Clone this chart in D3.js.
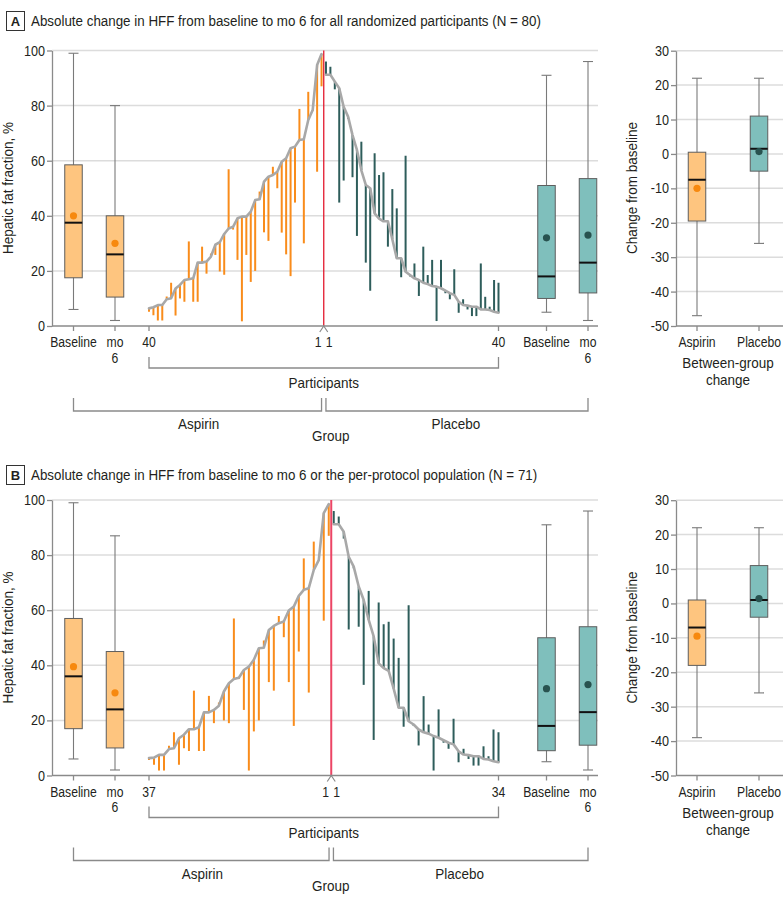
<!DOCTYPE html>
<html><head><meta charset="utf-8">
<script src="https://cdn.jsdelivr.net/npm/d3@7/dist/d3.min.js"></script>
<style>html,body{margin:0;padding:0;background:#fff;}svg{display:block;}</style>
</head><body>
<svg id="chart" width="783" height="902"></svg>
<script>
// ---------------- DATA ----------------
const boxCats = ["Baseline", "mo 6"];
const groups = ["Aspirin", "Placebo"];
const hffTicks = [0, 20, 40, 60, 80, 100];
const changeTicks = [30, 20, 10, 0, -10, -20, -30, -40, -50];

const titleA = "Absolute change in HFF from baseline to mo 6 for all randomized participants (N = 80)";
const titleB = "Absolute change in HFF from baseline to mo 6 or the per-protocol population (N = 71)";

// Panel A, aspirin, left to right (participant 40 ... 1)
const aspA_base = [6.4,6.8,7.6,7.6,9.7,10.1,13.6,14.9,16.7,17,17.3,23,23,23.4,25.2,29.5,30.4,33.4,35.4,36,39.1,39.7,39.7,41.5,45.7,46,52.4,54.2,54.8,56,59.6,60.9,64.5,65.1,67.5,67.8,74.8,78.4,94.7,98.7];
const aspA_m6   = [5.2,3.9,2,2,10.7,15.7,3.8,10,8.8,30.7,8.8,8.8,28.8,19,26.3,25.8,19.8,18.6,56.9,35,24,1.7,25.8,16,20,48.8,34,30.9,57.8,50,33.9,26,18.1,44.8,78.8,30,85,78,56,87];
// Panel A, placebo, left to right (participant 1 ... 40)
const plaA_base = [91.2,91.2,88.7,86.3,79.6,76,69.3,63.9,56.5,51.2,50,40.9,39,38,38,31.5,24.6,24.6,19.7,18.5,17.3,16.7,15.7,15.2,14.5,14.3,13.7,12.8,11.9,11.3,8.8,7.6,7.4,7,7,6,6,5.8,5.2,4.8];
const plaA_m6   = [96,94.1,85.9,44.8,52.8,75.2,54,32.7,66.9,23,12.8,62.7,54.8,55.8,28.8,49.7,42.7,17.7,61.8,18,22.7,10.9,28.8,18.5,24,1.8,24,11.9,9.7,20.6,4.8,9.7,6,3.6,3.6,22.7,10.6,7,16.7,15.7];

// Panel B, aspirin, left to right (participant 37 ... 1)
const aspB_base = [6.3,6.5,7.5,7.5,9.6,9.9,13.5,14.8,16.8,16.8,17.5,22.9,22.9,23.8,25.3,30.5,33.5,35,35.5,38.3,39.5,42,46.2,46.4,52.8,54.3,55.3,55.9,59.9,61.3,65.2,67.4,68,74.6,78.2,95.2,98.5];
const aspB_m6   = [5.6,3.9,1.8,1.8,10.8,15.7,3.9,9.9,8.9,30.8,8.9,8.9,28.9,19,26.5,20,19,57,35,23.8,1.8,16,20,49,33.9,30.8,57.9,50.2,33.9,18,45,78.8,30.1,84.9,78,56.2,87];
// Panel B, placebo, left to right (participant 1 ... 34)
const plaB_base = [91.2,91.2,88.5,79.4,75.8,68.6,63.7,56.5,50.5,40.7,39,38,31.5,24.6,24.6,19.7,18.5,16.7,15.7,15.2,14.3,13.7,12.8,11.9,11.3,8.8,7.6,7.4,7,7,6,5.8,5.2,4.8];
const plaB_m6   = [96,94,86,53,75.2,54,32.9,67,12.9,62.8,54.9,55.8,49.7,42.7,17.7,61.8,18,10.9,28.8,18.5,1.8,24,11.9,9.7,20.6,4.8,9.7,6,3.6,3.6,10.6,7,16.7,15.7];

// box statistics: [min, q1, median, q3, max, mean]
const boxA_aspBase = [6, 17.5, 37.5, 58.5, 99, 40];
const boxA_aspM6   = [2, 10.5, 26, 40, 80, 30];
const boxA_plaBase = [5, 10, 18, 51, 91, 32];
const boxA_plaM6   = [2, 12, 23, 53.5, 96, 33];
const chgA_asp     = [-47, -19.5, -7.5, 0.5, 22, -10];
const chgA_pla     = [-26, -5, 1.5, 11, 22, 0.7];
const boxB_aspBase = [6, 17, 36, 57, 99, 39.5];
const boxB_aspM6   = [2, 10, 24, 45, 87, 30];
const boxB_plaBase = [5, 9, 18, 50, 91, 31.5];
const boxB_plaM6   = [2, 11, 23, 54, 96, 33];
const chgB_asp     = [-39, -18, -7, 1, 22, -9.5];
const chgB_pla     = [-26, -4, 1, 11, 22, 1.4];

// ---------------- DRAWING ----------------
const svg = d3.select('#chart');
const FONT = "'Liberation Sans', Arial, sans-serif";
const INK = '#231f20';
const C = {
  grid: '#dcdcdc', axis: '#8a8a8a',
  orange: '#f98c1b', orangeFill: '#fec57f', orangeDot: '#f7890f',
  teal: '#2e5d5b', tealFill: '#7fbfbc', tealDot: '#28524f',
  grey: '#a8a8a8', boxStroke: '#5e5e5e'
};

function txt(parent, x, y, s, o = {}) {
  const size = o.size || 14, sx = o.sx || 0.87;
  return parent.append('text')
    .attr('transform', `translate(${x},${y})${o.rot ? ` rotate(${o.rot})` : ''} scale(${sx},1)`)
    .attr('text-anchor', o.anchor || 'middle')
    .attr('font-family', FONT).attr('font-size', size)
    .attr('font-weight', o.weight || 400)
    .attr('fill', o.fill || INK)
    .text(s);
}

function drawBox(g, x, yS, s, kind) {
  const [mn, q1, md, q3, mx, mean] = s;
  const w = 17.5, cap = 10;
  const fill = kind === 'asp' ? C.orangeFill : C.tealFill;
  const dot = kind === 'asp' ? C.orangeDot : C.tealDot;
  const b = g.append('g');
  b.append('line').attr('x1', x).attr('x2', x).attr('y1', yS(mx)).attr('y2', yS(mn))
    .attr('stroke', '#7a7a7a').attr('stroke-width', 1.1);
  [mx, mn].forEach(v => b.append('line').attr('x1', x - cap / 2).attr('x2', x + cap / 2)
    .attr('y1', yS(v)).attr('y2', yS(v)).attr('stroke', '#7a7a7a').attr('stroke-width', 1.1));
  b.append('rect').attr('x', x - w / 2).attr('y', yS(q3)).attr('width', w).attr('height', yS(q1) - yS(q3))
    .attr('fill', fill).attr('stroke', C.boxStroke).attr('stroke-width', 1);
  b.append('line').attr('x1', x - w / 2).attr('x2', x + w / 2).attr('y1', yS(md)).attr('y2', yS(md))
    .attr('stroke', '#111').attr('stroke-width', 2);
  b.append('circle').attr('cx', x).attr('cy', yS(mean)).attr('r', 3.6).attr('fill', dot);
}

let titleScale = null;

function drawPanel(p) {
  const dy = p.dy;
  const g = svg.append('g');
  const y0 = 326 + dy;
  const yH = d3.scaleLinear().domain([0, 100]).range([y0, 50.5 + dy]);
  const yC = d3.scaleLinear().domain([-50, 30]).range([y0, 50.7 + dy]);
  const nA = p.aspBase.length, nP = p.plaBase.length;
  const xP = d3.scaleLinear().domain([0, nA + nP - 1]).range([149, 498.5]);
  const xBL = d3.scalePoint().domain(boxCats).range([73.5, 115]);
  const xBR = d3.scalePoint().domain(boxCats).range([546.5, 588]);
  const xG = d3.scalePoint().domain(groups).range([697, 759]);
  const L0 = 52, L1 = 598, R0 = 676, R1 = 783;
  const redX = xP(nA - 0.5);

  // title
  const ty = p.titleY;
  g.append('rect').attr('x', 6.5).attr('y', ty - 9.5).attr('width', 18).attr('height', 19)
    .attr('fill', '#fff').attr('stroke', '#333').attr('stroke-width', 1);
  txt(g, 15.5, ty + 4.5, p.letter, { size: 13, weight: 700, sx: 1 });
  const tt = txt(g, 31, ty + 5, p.title, { size: 15.5, anchor: 'start', sx: 1 });
  if (titleScale === null) titleScale = 510 / tt.node().getComputedTextLength();
  tt.attr('transform', `translate(31,${ty + 5}) scale(${titleScale},1)`);

  // gridlines
  g.append('g').selectAll('line').data(hffTicks.filter(d => d > 0)).join('line')
    .attr('x1', L0).attr('x2', L1).attr('y1', d => yH(d)).attr('y2', d => yH(d))
    .attr('stroke', C.grid).attr('stroke-width', 1.5);
  g.append('g').selectAll('line').data(changeTicks.filter(d => d > -50)).join('line')
    .attr('x1', R0).attr('x2', R1).attr('y1', d => yC(d)).attr('y2', d => yC(d))
    .attr('stroke', C.grid).attr('stroke-width', 1.5);

  // box plots
  drawBox(g, xBL('Baseline'), yH, p.bAspBase, 'asp');
  drawBox(g, xBL('mo 6'), yH, p.bAspM6, 'asp');
  drawBox(g, xBR('Baseline'), yH, p.bPlaBase, 'pla');
  drawBox(g, xBR('mo 6'), yH, p.bPlaM6, 'pla');
  drawBox(g, xG('Aspirin'), yC, p.cAsp, 'asp');
  drawBox(g, xG('Placebo'), yC, p.cPla, 'pla');

  // waterfall bars
  const aspPts = p.aspBase.map((b, i) => ({ x: xP(i), b, m: p.aspM6[i] }));
  const plaPts = p.plaBase.map((b, i) => ({ x: xP(nA + i), b, m: p.plaM6[i] }));
  g.append('g').selectAll('line').data(aspPts).join('line')
    .attr('x1', d => d.x).attr('x2', d => d.x).attr('y1', d => yH(d.b)).attr('y2', d => yH(d.m))
    .attr('stroke', C.orange).attr('stroke-width', 2);
  g.append('g').selectAll('line').data(plaPts).join('line')
    .attr('x1', d => d.x).attr('x2', d => d.x).attr('y1', d => yH(d.b)).attr('y2', d => yH(d.m))
    .attr('stroke', C.teal).attr('stroke-width', 2);
  const line = d3.line().x(d => d.x).y(d => yH(d.b));
  [aspPts, plaPts].forEach(pts => g.append('path').attr('d', line(pts)).attr('fill', 'none')
    .attr('stroke', C.grey).attr('stroke-width', 2.6).attr('stroke-linejoin', 'round').attr('stroke-linecap', 'round'));

  // red separator
  g.append('line').attr('x1', redX).attr('x2', redX).attr('y1', yH(100)).attr('y2', y0)
    .attr('stroke', p.red).attr('stroke-width', p.redW);

  // axes
  const axL = g.append('g').attr('transform', `translate(${L0},0)`)
    .call(d3.axisLeft(yH).tickValues(hffTicks).tickSize(5).tickSizeOuter(0));
  const axR = g.append('g').attr('transform', `translate(${R0},0)`)
    .call(d3.axisLeft(yC).tickValues(changeTicks).tickSize(5).tickSizeOuter(0));
  [axL, axR].forEach(a => {
    a.selectAll('text').remove();
    a.selectAll('path,line').attr('stroke', C.axis).attr('stroke-width', 1.3);
  });
  hffTicks.forEach(t => txt(g, L0 - 7, yH(t) + 5, String(t), { anchor: 'end', size: 14.5 }));
  changeTicks.forEach(t => txt(g, R0 - 7, yC(t) + 5, String(t), { anchor: 'end', size: 14.5 }));

  g.append('line').attr('x1', L0).attr('x2', L1).attr('y1', y0).attr('y2', y0).attr('stroke', C.axis).attr('stroke-width', 1.3);
  g.append('line').attr('x1', R0).attr('x2', R1).attr('y1', y0).attr('y2', y0).attr('stroke', C.axis).attr('stroke-width', 1.3);

  const tick = x => g.append('line').attr('x1', x).attr('x2', x).attr('y1', y0).attr('y2', y0 + 5)
    .attr('stroke', C.axis).attr('stroke-width', 1.3);
  boxCats.forEach(c => { tick(xBL(c)); tick(xBR(c)); });
  tick(xP(0)); tick(xP(nA + nP - 1));
  groups.forEach(gp => tick(xG(gp)));
  g.append('path').attr('d', `M${redX - 4},${y0 + 6}L${redX},${y0}L${redX + 4},${y0 + 6}`)
    .attr('fill', 'none').attr('stroke', C.axis).attr('stroke-width', 1.2);

  // tick labels
  const catLabel = (x, c) => c.split(' ').forEach((s, i) => txt(g, x, y0 + 21 + i * 15.5, s));
  boxCats.forEach(c => { catLabel(xBL(c), c); catLabel(xBR(c), c); });
  txt(g, xP(0), y0 + 21, String(nA));
  txt(g, xP(nA + nP - 1), y0 + 21, String(nP));
  txt(g, redX - 5.5, y0 + 21, '1');
  txt(g, redX + 5.5, y0 + 21, '1');
  groups.forEach(gp => txt(g, xG(gp), y0 + 21, gp));
  const gMid = (xG('Aspirin') + xG('Placebo')) / 2;
  txt(g, gMid, y0 + 42, 'Between-group', { size: 15, sx: 0.9 });
  txt(g, gMid, y0 + 59, 'change', { size: 15, sx: 0.9 });

  // brackets
  const br = (xa, xb, ya, yb) => g.append('path').attr('d', `M${xa},${ya}V${yb}H${xb}V${ya}`)
    .attr('fill', 'none').attr('stroke', C.axis).attr('stroke-width', 1.3);
  br(xP(0), xP(nA + nP - 1), y0 + 31, y0 + 42);
  txt(g, (xP(0) + xP(nA + nP - 1)) / 2, y0 + 62, 'Participants', { size: 15, sx: 0.9 });
  br(xBL('Baseline'), redX - 2.2, y0 + 72, y0 + 85);
  br(redX + 2.2, xBR('mo 6'), y0 + 72, y0 + 85);
  txt(g, (xBL('Baseline') + redX) / 2, y0 + 103, 'Aspirin', { size: 15, sx: 0.9 });
  txt(g, (redX + xBR('mo 6')) / 2, y0 + 103, 'Placebo', { size: 15, sx: 0.9 });
  txt(g, (xBL('Baseline') + xBR('mo 6')) / 2, y0 + 115, 'Group', { size: 15, sx: 0.9 });

  // axis titles
  txt(g, 13, 188 + dy, 'Hepatic fat fraction, %', { size: 15, sx: 0.9, rot: -90 });
  txt(g, 637, 188 + dy, 'Change from baseline', { size: 15, sx: 0.9, rot: -90 });
}

drawPanel({ dy: 0, titleY: 21, letter: 'A', title: titleA,
  aspBase: aspA_base, aspM6: aspA_m6, plaBase: plaA_base, plaM6: plaA_m6,
  bAspBase: boxA_aspBase, bAspM6: boxA_aspM6, bPlaBase: boxA_plaBase, bPlaM6: boxA_plaM6,
  cAsp: chgA_asp, cPla: chgA_pla, red: '#e3192e', redW: 1.3 });
drawPanel({ dy: 449.5, titleY: 475, letter: 'B', title: titleB,
  aspBase: aspB_base, aspM6: aspB_m6, plaBase: plaB_base, plaM6: plaB_m6,
  bAspBase: boxB_aspBase, bAspM6: boxB_aspM6, bPlaBase: boxB_plaBase, bPlaM6: boxB_plaM6,
  cAsp: chgB_asp, cPla: chgB_pla, red: '#ec4565', redW: 2 });
</script>
</body></html>
